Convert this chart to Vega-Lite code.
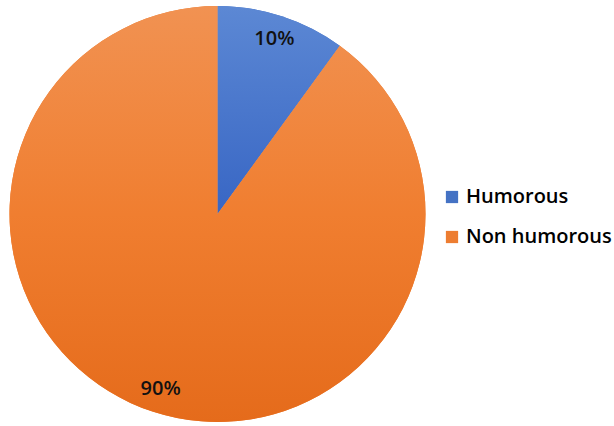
{
  "$schema": "https://vega.github.io/schema/vega-lite/v6.json",
  "width": 435,
  "height": 424,
  "padding": {"left": 0, "top": 2, "right": 179, "bottom": 0},
  "autosize": {"type": "none"},
  "background": "white",
  "config": {"view": {"stroke": null}},
  "data": {"values": [
    {"category": "Humorous", "share": 0.1, "order": 1},
    {"category": "Non humorous", "share": 0.9, "order": 2}
  ]},
  "encoding": {
    "theta": {"field": "share", "type": "quantitative", "stack": true},
    "order": {"field": "order", "type": "quantitative"}
  },
  "layer": [
    {
      "mark": {"type": "arc", "outerRadius": 208},
      "encoding": {
        "color": {
          "field": "category", "type": "nominal",
          "scale": {"domain": ["Humorous", "Non humorous"], "range": ["#4472C4", "#ED7D31"]},
          "legend": {
            "title": null,
            "orient": "none",
            "legendX": 442,
            "legendY": 185,
            "symbolType": "square",
            "symbolSize": 150,
            "symbolStrokeWidth": 0,
            "symbolOpacity": 1,
            "labelFont": "Open Sans",
            "labelFontSize": 20,
            "labelFontWeight": 600,
            "labelColor": "#000000",
            "labelOffset": 4,
            "rowPadding": 20,
            "padding": 0
          }
        }
      }
    },
    {
      "mark": {"type": "arc", "outerRadius": 208},
      "encoding": {
        "color": {
          "condition": {
            "test": "datum.category === 'Humorous'",
            "value": {"gradient": "linear", "x1": 0, "y1": 0, "x2": 0, "y2": 1,
              "stops": [{"offset": 0, "color": "#5C88D4"}, {"offset": 1, "color": "#3866C4"}]}
          },
          "value": {"gradient": "linear", "x1": 0, "y1": 0, "x2": 0, "y2": 1,
            "stops": [{"offset": 0, "color": "#F19252"}, {"offset": 0.5, "color": "#F07E30"}, {"offset": 1, "color": "#E56B1B"}]}
        }
      }
    },
    {
      "mark": {"type": "text", "radius": 184, "font": "Open Sans", "fontSize": 20, "fontWeight": 600, "color": "#111111"},
      "encoding": {
        "text": {"field": "share", "type": "quantitative", "format": ".0%"}
      }
    }
  ]
}
